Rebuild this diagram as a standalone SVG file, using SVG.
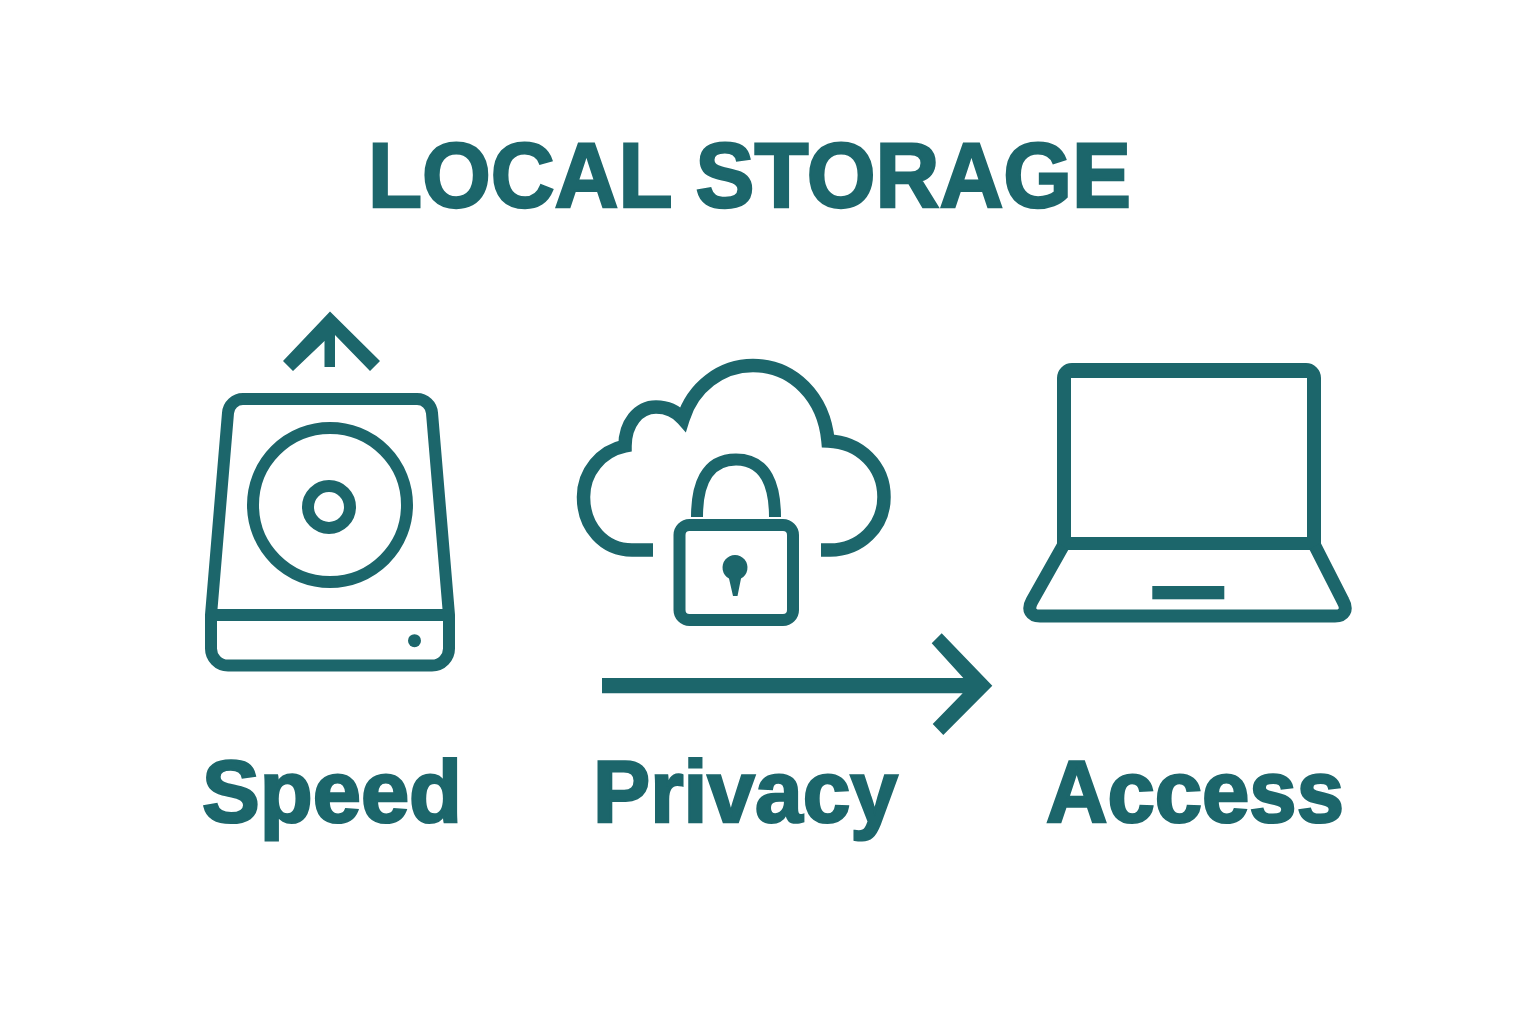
<svg xmlns="http://www.w3.org/2000/svg" width="1536" height="1024" viewBox="0 0 1536 1024">
<style>
.s{fill:none;stroke:#1c666b;stroke-width:12;stroke-linejoin:round}
.m{stroke-linejoin:miter;stroke-miterlimit:10;stroke-width:13.500}
.f{fill:#1c666b}
text{font-family:"Liberation Sans",Arial,sans-serif;font-weight:700;fill:#1c666b;stroke:#1c666b;stroke-width:2.500;text-rendering:geometricPrecision}
.l{font-size:88px}
</style>
<rect width="1536" height="1024" fill="#fff"/>
<text id="title" x="368" y="207" font-size="92" textLength="763" lengthAdjust="spacingAndGlyphs">LOCAL STORAGE</text>
<g id="speed">
<path class="s" d="M243 399H417A15 15 0 0 1 432 413L449 615V648A17 17 0 0 1 432 665.500H228A17 17 0 0 1 211 648V615L228 413A15 15 0 0 1 243 399Z"/>
<path class="s" d="M211 615H449"/>
<circle class="s" cx="330" cy="505" r="77"/>
<circle class="s" cx="329" cy="507" r="21"/>
<circle class="f" cx="414.500" cy="640.700" r="6.500"/>
<path class="f" d="M330 311.500L380 361L370 371L335 335V367H324.500V341L293 371L283 361Z"/>
</g>
<g id="privacy">
<path class="s m" d="M653 550H632C604 550 583.500 527 583.500 497C583.500 472 601 451 625 446C625 424 638 407 656 407C666 407 676 411 683 419C693 387 721 365.500 753 365.500C793 365.500 824 397 828 441C860 442 884 466 884 497C884 527 860 550 830 550H821"/>
<rect class="s" x="679.500" y="525" width="113.500" height="95" rx="10"/>
<path class="s" d="M697 517C697 487 705 459.500 736 459.500C767 459.500 775 487 775 517"/>
<path class="f" d="M729 578.500A12.500 12.500 0 1 1 741 578.500L737.500 596H733Z"/>
</g>
<g id="access">
<path class="f" fill-rule="evenodd" d="M1057 378A15 15 0 0 1 1072 363H1306A15 15 0 0 1 1321 378V550H1057ZM1071 378V537H1307V378Z"/>
<path class="s" style="stroke-width:13" d="M1063 546L1032 601C1027 610 1031 616 1040 616H1335C1344 616 1348 610 1343 601L1315 546"/>
<rect class="f" x="1152.300" y="586" width="72" height="13.300"/>
</g>
<g id="connectors">
<path class="f" d="M602 678H963.300L931.700 643.300L941.700 633.300L992.300 685.700L943.300 735L932.700 724L962.700 693.300H602Z"/>
</g>
<text id="label-speed" class="l" x="202" y="821.500" textLength="260" lengthAdjust="spacingAndGlyphs">Speed</text>
<text id="label-privacy" class="l" x="593" y="821.500" textLength="305" lengthAdjust="spacingAndGlyphs">Privacy</text>
<text id="label-access" class="l" x="1046" y="821.500" textLength="298" lengthAdjust="spacingAndGlyphs">Access</text>
</svg>
